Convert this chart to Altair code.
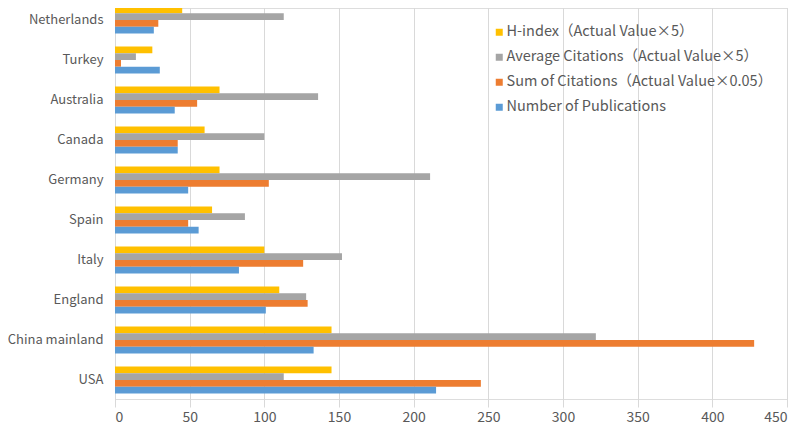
import altair as alt
import pandas as pd

countries = ["Netherlands", "Turkey", "Australia", "Canada", "Germany",
             "Spain", "Italy", "England", "China mainland", "USA"]
series_names = ["H-index（Actual Value×5）",
                "Average Citations（Actual Value×5）",
                "Sum of Citations（Actual Value×0.05）",
                "Number of Publications"]
series_colors = ["#FFC000", "#A5A5A5", "#ED7D31", "#5B9BD5"]

h_index = [45, 25, 70, 60, 70, 65, 100, 110, 145, 145]
avg_citations = [113, 14, 136, 100, 211, 87, 152, 128, 322, 113]
sum_citations = [29, 4, 55, 42, 103, 49, 126, 129, 428, 245]
publications = [26, 30, 40, 42, 49, 56, 83, 101, 133, 215]

x_ticks = [0, 50, 100, 150, 200, 250, 300, 350, 400, 450]

rows = []
for name, vals in zip(series_names, [h_index, avg_citations, sum_citations, publications]):
    for c, v in zip(countries, vals):
        rows.append({"country": c, "series": name, "value": v})
df = pd.DataFrame(rows)

FONT = "Noto Sans CJK SC"
TXT = "#595959"

chart = alt.Chart(df).mark_bar().encode(
    y=alt.Y("country:N", sort=countries,
            scale=alt.Scale(domain=countries, range=[-8, 392], paddingInner=0, paddingOuter=0),
            axis=alt.Axis(title=None, domain=False, ticks=False, grid=False,
                          labelFont=FONT, labelFontSize=13, labelColor=TXT,
                          labelPadding=12, labelLimit=200)),
    yOffset=alt.YOffset("series:N", sort=series_names,
                        scale=alt.Scale(domain=series_names, paddingInner=0, paddingOuter=0.98)),
    x=alt.X("value:Q", scale=alt.Scale(domain=[0, 450], nice=False),
            axis=alt.Axis(title=None, values=x_ticks, domain=False, ticks=False,
                          grid=True, gridColor="#D9D9D9", gridWidth=1,
                          labelFont=FONT, labelFontSize=14, labelColor=TXT,
                          labelPadding=11)),
    color=alt.Color("series:N", sort=series_names,
                    scale=alt.Scale(domain=series_names, range=series_colors),
                    legend=alt.Legend(orient="none", legendX=377, legendY=17, title=None,
                                      symbolType="square", symbolSize=49, symbolStrokeWidth=0,
                                      labelFont=FONT, labelFontSize=14.5, labelColor=TXT,
                                      labelLimit=400, labelOffset=0, rowPadding=10)),
).properties(
    width=672, height=391,
    autosize=alt.AutoSizeParams(type="none"),
    padding={"left": 107, "top": 0, "right": 5, "bottom": 27},
).configure_view(stroke=None).configure(background="white")

chart.save("out.html", embed_options={"renderer": "svg", "actions": False})
